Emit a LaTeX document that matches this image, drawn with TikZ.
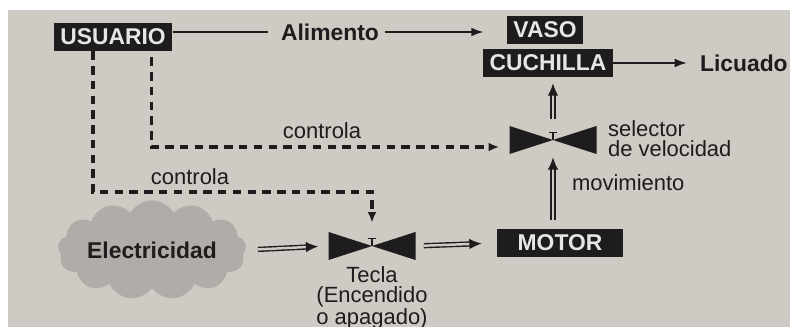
\documentclass[tikz,border=0pt]{standalone}
\usepackage{fontspec}
\setmainfont{Liberation Sans}
\usetikzlibrary{arrows.meta,shapes.symbols}
\definecolor{paper}{RGB}{206,202,196}
\definecolor{ink}{RGB}{30,28,28}
\definecolor{boxtext}{RGB}{232,230,228}
\definecolor{cloudgray}{RGB}{176,173,169}
\tikzstyle{block}=[fill=ink,text=boxtext,font=\fontsize{13}{13}\selectfont\bfseries,inner xsep=0.13cm,inner ysep=0pt,minimum height=0.56cm]
\tikzstyle{note}=[text=ink,font=\fontsize{12.5}{11.5}\selectfont,inner sep=1pt]
\tikzstyle{bold note}=[note,font=\fontsize{13}{13}\selectfont\bfseries]
\tikzstyle{valve}=[minimum width=1.74cm,minimum height=0.56cm,inner sep=0pt,
  path picture={
    \fill[ink] (path picture bounding box.north west) -- (path picture bounding box.center)
      -- (path picture bounding box.south west) -- cycle;
    \fill[ink] (path picture bounding box.north east) -- (path picture bounding box.center)
      -- (path picture bounding box.south east) -- cycle;
    \draw[ink,line width=1pt] (path picture bounding box.center) -- ++(0,0.15cm)
      ++(-0.08cm,0) -- ++(0.16cm,0);}]
\tikzstyle{feed}=[draw=ink,line width=1.1pt]
\tikzstyle{feed arrow}=[feed,-{Latex[length=7pt,width=5pt]}]
\tikzstyle{control}=[draw=ink,line width=2pt,dash pattern=on 4.8pt off 3.6pt,-{Latex[length=6pt,width=5pt]}]
\tikzstyle{flow}=[draw=ink,double=paper,double distance=1.4pt,line width=0.8pt,-{Latex[length=7pt,width=6pt]}]

\begin{document}
\begin{tikzpicture}[x=0.2mm,y=-0.2mm]
   \useasboundingbox (0,0) rectangle (790,327);
   \fill[white] (0,0) rectangle (790,327);
   \fill[paper] (8,10) rectangle (790,327);
   % boxes
   \foreach \pos/\name/\txt in {{(113,37)/usuario/USUARIO}, {(545,30)/vaso/VASO},
        {(548,63)/cuchilla/CUCHILLA}}
        \node[block] (\name) at \pos {\txt};
   \node[block,minimum width=2.52cm] (motor) at (560,243) {MOTOR};
   \node[cloud,cloud puffs=13,cloud puff arc=120,aspect=2.4,fill=cloudgray,text=ink,
         font=\fontsize{13}{13}\selectfont\bfseries,minimum width=3.5cm,minimum height=1.45cm,
         inner sep=0pt] (electricidad) at (152,250) {Electricidad};
   % valves
   \node[valve] (selector) at (553,140) {};
   \node[valve] (tecla) at (372,246) {};
   % texts
   \node[bold note] (alimento) at (330,32) {Alimento};
   \node[bold note,anchor=west] (licuado) at (698,63) {Licuado};
   \node[note] (controla1) at (322,131) {controla};
   \node[note] (controla2) at (190,177) {controla};
   \node[note,anchor=west,align=left] (velocidad) at (606,139) {selector\\de velocidad};
   \node[note,anchor=west] (movimiento) at (570,183) {movimiento};
   \node[note,align=center,anchor=north] (tecla text) at (372,264) {Tecla\\(Encendido\\o apagado)};
   \coordinate (bend) at (372,192);
   % connectors
   \path[feed,shorten >=0.22cm] (usuario.east|-alimento) -- (alimento.west);
   \path[feed arrow,shorten <=0.08cm,shorten >=0.46cm] (alimento.east) -- (vaso.west|-alimento);
   \path[feed arrow,shorten >=0.22cm] (cuchilla) -- (licuado);
   \path[flow,shorten <=0.14cm,shorten >=0.12cm] (selector.north) -- (cuchilla.south-|selector);
   \path[flow,shorten <=0.18cm,shorten >=0.06cm] (motor.north-|selector) -- (selector.south);
   \path[flow,shorten <=0.24cm,shorten >=0.2cm] (electricidad.east) -- (tecla.west);
   \path[flow,shorten <=0.16cm,shorten >=0.3cm] (tecla.east) -- (motor.west);
   \path[control,shorten <=0.12cm,shorten >=0.2cm] ([xshift=-0.42cm]usuario.south east) |- ([yshift=-0.14cm]selector.west);
   \path[control,shorten >=0.18cm] ([xshift=-0.4cm]usuario.south) |- (bend) -- (tecla.north);
\end{tikzpicture}
\end{document}
